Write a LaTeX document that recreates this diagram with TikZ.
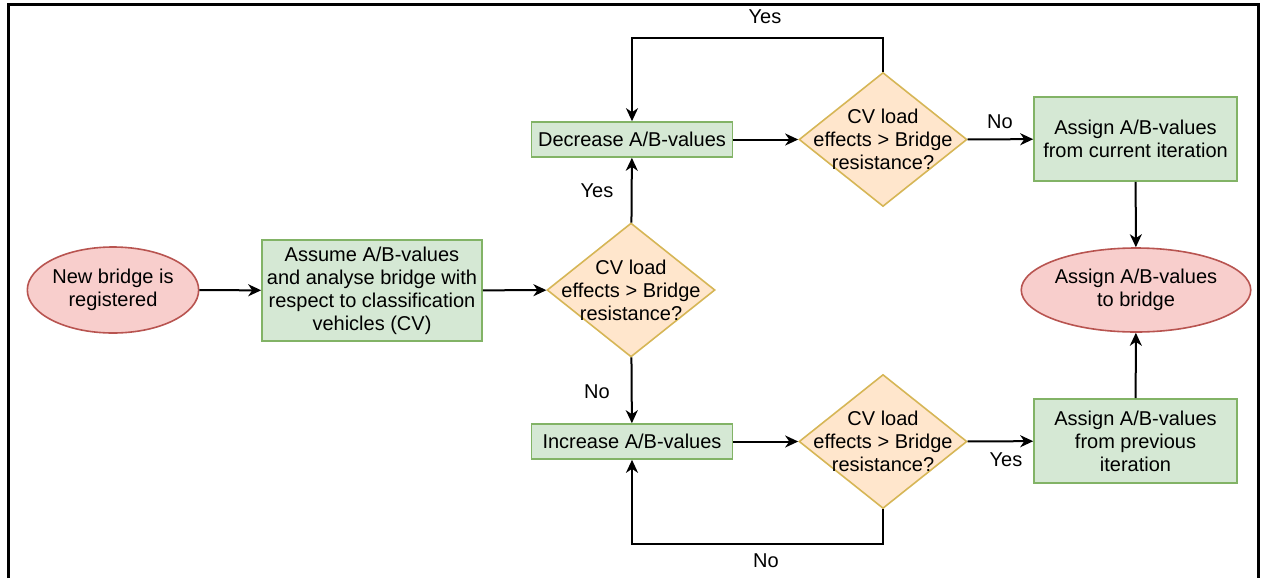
\documentclass[tikz,border=0pt]{standalone}
\usepackage{fontspec}
\setmainfont{Liberation Sans}
\usetikzlibrary{shapes.geometric,arrows.meta,positioning}

\definecolor{boxfill}{HTML}{D5E8D4}
\definecolor{boxline}{HTML}{82B366}
\definecolor{endfill}{HTML}{F8CECC}
\definecolor{endline}{HTML}{B85450}
\definecolor{askfill}{HTML}{FFE6CC}
\definecolor{askline}{HTML}{D6B656}

\begin{document}
\begin{tikzpicture}[
    x=0.5pt, y=-0.5pt,
    every node/.style={font=\fontsize{10}{11.5}\selectfont},
    box/.style={draw=boxline, fill=boxfill, line width=0.8pt, align=center, inner sep=0pt},
    term/.style={ellipse, draw=endline, fill=endfill, line width=0.8pt, align=center,
                 inner sep=0pt},
    ask/.style={diamond, draw=askline, fill=askfill, line width=0.8pt, inner sep=0pt,
                minimum width=84pt, minimum height=67pt,
                label={[align=center]center:CV load\\effects > Bridge\\resistance?}},
    flow/.style={-{Stealth[length=6.5pt, width=6pt, inset=2pt]}, line width=1pt},
    lbl/.style={inner sep=1pt}
]
    \useasboundingbox (0,0) rectangle (1261,578);
    % frame, open at the bottom
    \draw[line width=1.5pt] (8,578) -- (8,4) -- (1258.5,4) -- (1258.5,578);

    \node[term, minimum width=83pt, minimum height=43pt] (new) at (113,290) {New bridge is\\registered};
    \node[box, minimum width=110pt, minimum height=50.5pt] (assume) at (372,290.5)
        {Assume A/B-values\\and analyse bridge with\\respect to classification\\vehicles (CV)};
    \node[ask] (check) at (631,290) {};

    \node[box, minimum width=100.5pt, minimum height=17.5pt] (decrease) at (632,139.5) {Decrease A/B-values};
    \node[ask] (checkup) at (883,139.5) {};
    \node[box, minimum width=101.5pt, minimum height=42pt] (current) at (1135.5,139) {Assign A/B-values\\from current iteration};

    \node[box, minimum width=100.5pt, minimum height=17.5pt] (increase) at (632,441.5) {Increase A/B-values};
    \node[ask] (checkdown) at (883,441.5) {};
    \node[box, minimum width=101.5pt, minimum height=42pt] (previous) at (1135.5,441) {Assign A/B-values\\from previous\\iteration};

    \node[term, minimum width=101pt, minimum height=42pt] (assign) at (1136,290) {Assign A/B-values\\to bridge};

    % answers
    \node[lbl] (yesup) at (597,191) {Yes};
    \node[lbl] (noup) at (597,392) {No};
    \node[lbl] (yesloop) at (765,17) {Yes};
    \node[lbl] (noloop) at (766,561) {No};
    \node[lbl] (nocur) at (1000,122) {No};
    \node[lbl] (yesprev) at (1006,460) {Yes};

    \draw[flow] (new) -- (assume);
    \draw[flow] (assume) -- (check);
    \draw[flow] (check) -- (decrease);
    \draw[flow] (check) -- (increase);
    \draw[flow] (decrease) -- (checkup);
    \draw[flow] (increase) -- (checkdown);
    \draw[flow] (checkup) -- (current);
    \draw[flow] (checkdown) -- (previous);
    \draw[flow] (checkup.north) -- ++(0,-34) -| (decrease.north);
    \draw[flow] (checkdown.south) -- ++(0,35) -| (increase.south);
    \draw[flow] (current) -- (assign);
    \draw[flow] (previous) -- (assign);
\end{tikzpicture}
\end{document}
